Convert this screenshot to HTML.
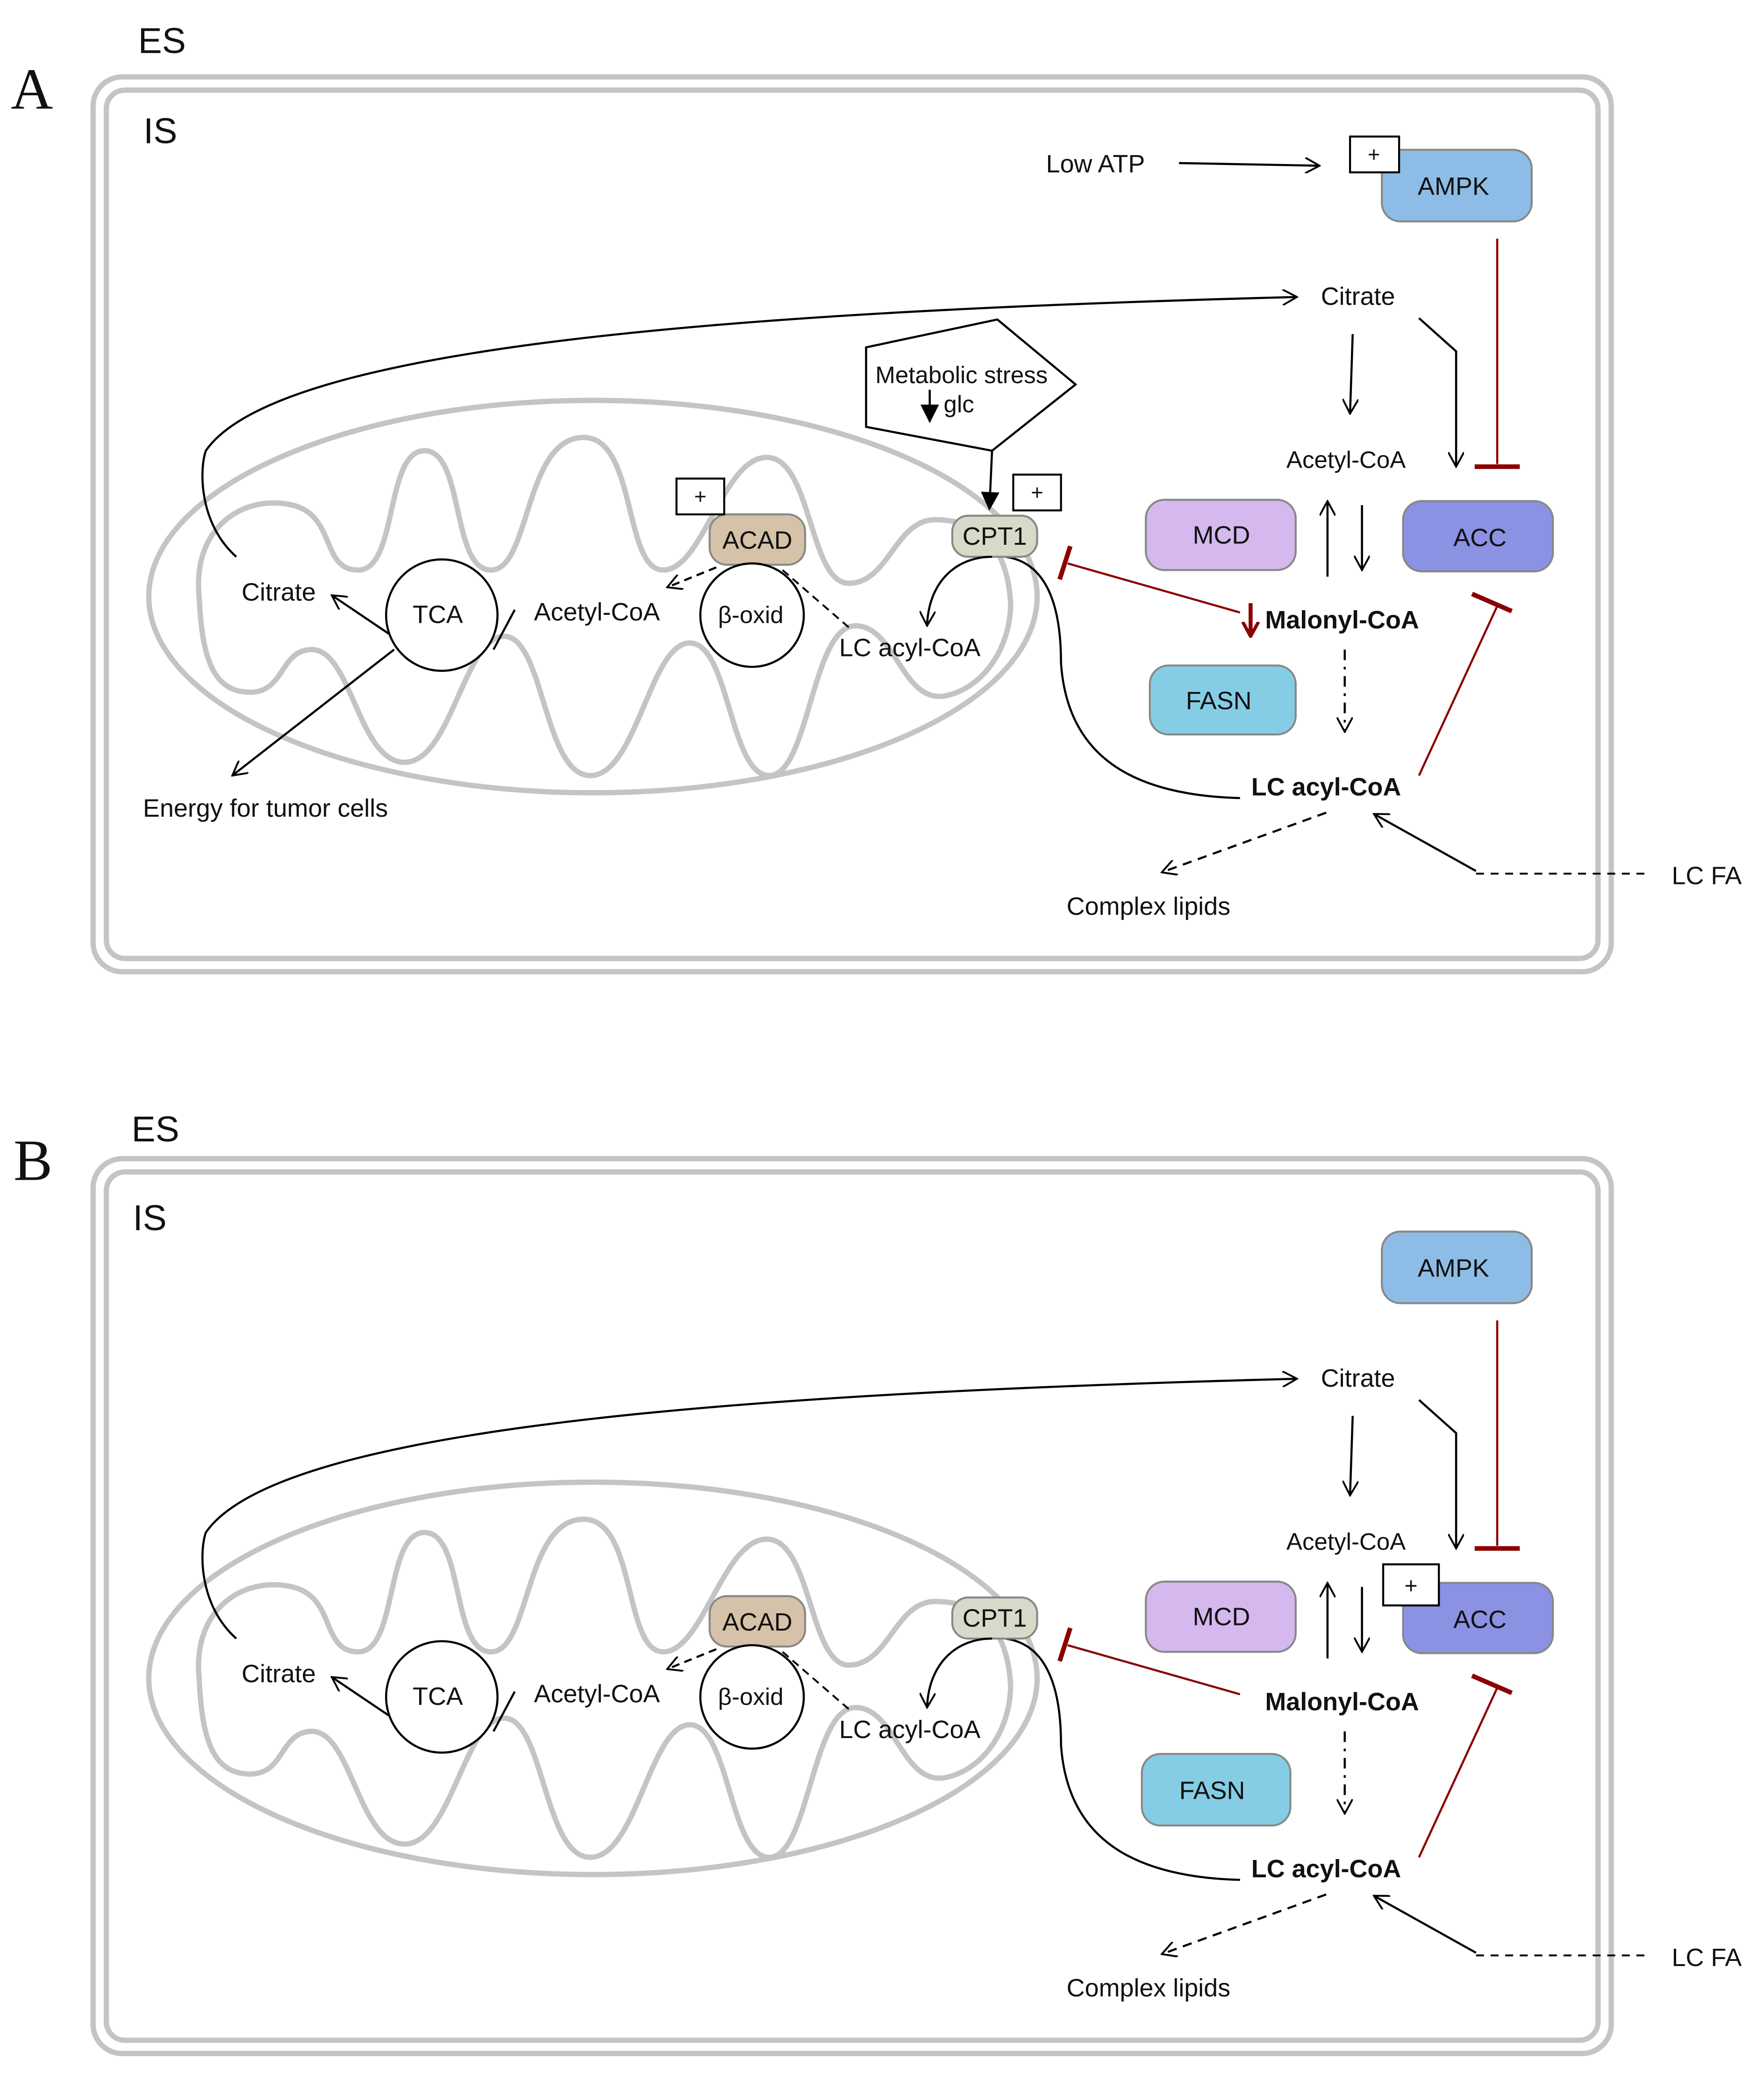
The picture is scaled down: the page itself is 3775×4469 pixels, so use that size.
<!DOCTYPE html>
<html><head><meta charset="utf-8"><style>
html,body{margin:0;padding:0;background:#fff;}
svg{display:block;}
text{font-family:"Liberation Sans",Arial,sans-serif;fill:#111;}
</style></head><body>
<svg width="3775" height="4469" viewBox="0 0 1330 1575" xmlns="http://www.w3.org/2000/svg">
<defs>
<marker id="ah" viewBox="0 0 12 12" refX="11" refY="6" markerWidth="12" markerHeight="12" markerUnits="userSpaceOnUse" orient="auto"><path d="M0,0 L11,6 L0,12" fill="none" stroke="#000" stroke-width="1.4"/></marker>
<marker id="af" viewBox="0 0 12 12" refX="11" refY="6" markerWidth="14" markerHeight="14" markerUnits="userSpaceOnUse" orient="auto"><path d="M0,0 L12,6 L0,12 z" fill="#000"/></marker>
<marker id="ar" viewBox="0 0 12 12" refX="11" refY="6" markerWidth="12" markerHeight="14" markerUnits="userSpaceOnUse" orient="auto"><path d="M0,0 L11,6 L0,12" fill="none" stroke="#8b0000" stroke-width="2.5"/></marker>
<g id="base">
 <rect x="70" y="58" width="1145" height="675" rx="22" fill="none" stroke="#c4c4c4" stroke-width="4"/>
 <rect x="80" y="68" width="1125" height="655" rx="14" fill="none" stroke="#c4c4c4" stroke-width="4"/>
 <ellipse cx="447" cy="450" rx="335" ry="148" fill="none" stroke="#c4c4c4" stroke-width="4"/>
 <path d="M150,450 C145,400 180,375 215,380 C255,385 240,430 270,430 C300,430 290,340 320,340 C350,340 340,430 370,430 C400,430 395,330 440,330 C480,330 470,430 500,430 C530,430 545,345 578,345 C612,345 610,440 640,440 C670,440 675,392 705,392 C745,392 760,420 762,455 C762,490 740,520 712,525 C680,530 675,472 645,472 C612,472 610,585 580,585 C550,585 550,485 520,485 C490,485 480,585 445,585 C410,585 410,480 380,480 C350,480 340,575 305,575 C270,575 265,490 235,490 C210,490 215,525 185,522 C160,520 152,495 150,450 Z" fill="none" stroke="#c4c4c4" stroke-width="4"/>
 <text x="1024" y="230" font-size="19" text-anchor="middle">Citrate</text>
 <path d="M178,420 C150,395 150,355 155,340 C210,260 560,235 978,224" fill="none" stroke="#000" stroke-width="1.6" marker-end="url(#ah)"/>
 <line x1="1020" y1="252" x2="1018" y2="312" stroke="#000" stroke-width="1.6" marker-end="url(#ah)"/>
 <polyline points="1070,240 1098,265 1098,352" fill="none" stroke="#000" stroke-width="1.6" marker-end="url(#ah)"/>
 <text x="1015" y="353" font-size="18" text-anchor="middle">Acetyl-CoA</text>
 <rect x="864" y="377" width="113" height="53" rx="14" fill="#d4b8ee" stroke="#888" stroke-width="1.5"/>
 <text x="921" y="410" font-size="19" text-anchor="middle">MCD</text>
 <rect x="1058" y="378" width="113" height="53" rx="14" fill="#8b91e3" stroke="#888" stroke-width="1.5"/>
 <text x="1116" y="412" font-size="19" text-anchor="middle">ACC</text>
 <line x1="1001" y1="435" x2="1001" y2="378" stroke="#000" stroke-width="1.6" marker-end="url(#ah)"/>
 <line x1="1027" y1="381" x2="1027" y2="430" stroke="#000" stroke-width="1.6" marker-end="url(#ah)"/>
 <text x="1012" y="474" font-size="19" font-weight="bold" text-anchor="middle">Malonyl-CoA</text>
 <line x1="935" y1="462" x2="805" y2="425" stroke="#8b0000" stroke-width="1.6"/>
 <line x1="799" y1="437" x2="807" y2="412" stroke="#8b0000" stroke-width="3.5"/>
 <line x1="1014" y1="490" x2="1014" y2="552" stroke="#000" stroke-width="1.6" stroke-dasharray="8,5,2,5" marker-end="url(#ah)"/>
 <text x="1000" y="600" font-size="19" font-weight="bold" text-anchor="middle">LC acyl-CoA</text>
 <line x1="1070" y1="585" x2="1130" y2="455" stroke="#8b0000" stroke-width="1.6"/>
 <line x1="1110" y1="448" x2="1140" y2="461" stroke="#8b0000" stroke-width="3.5"/>
 <line x1="1129" y1="180" x2="1129" y2="350" stroke="#8b0000" stroke-width="1.6"/>
 <line x1="1112" y1="352" x2="1146" y2="352" stroke="#8b0000" stroke-width="3.5"/>
 <path d="M758,420 C795,425 800,470 800,500 C805,575 860,600 935,602" fill="none" stroke="#000" stroke-width="1.6"/>
 <line x1="1000" y1="613" x2="876" y2="658" stroke="#000" stroke-width="1.6" stroke-dasharray="7,5" marker-end="url(#ah)"/>
 <text x="866" y="690" font-size="19" text-anchor="middle">Complex lipids</text>
 <line x1="1113" y1="657" x2="1036" y2="614" stroke="#000" stroke-width="1.6" marker-end="url(#ah)"/>
 <line x1="1113" y1="659" x2="1245" y2="659" stroke="#000" stroke-width="1.4" stroke-dasharray="6,5"/>
 <text x="1287" y="667" font-size="19" text-anchor="middle">LC FA</text>
 <rect x="718" y="389" width="64" height="31" rx="12" fill="#d7dac8" stroke="#888" stroke-width="1.5"/>
 <text x="750" y="411" font-size="19" text-anchor="middle">CPT1</text>
 <rect x="535" y="388" width="72" height="38" rx="13" fill="#d5c2a8" stroke="#888" stroke-width="1.5"/>
 <text x="571" y="414" font-size="19" text-anchor="middle">ACAD</text>
 <circle cx="567" cy="464" r="39" fill="#fff" stroke="#000" stroke-width="1.6"/>
 <text x="566" y="470" font-size="18" text-anchor="middle">β-oxid</text>
 <circle cx="333" cy="464" r="42" fill="#fff" stroke="#000" stroke-width="1.6"/>
 <text x="330" y="470" font-size="19" text-anchor="middle">TCA</text>
 <text x="210" y="453" font-size="19" text-anchor="middle">Citrate</text>
 <line x1="293" y1="478" x2="250" y2="449" stroke="#000" stroke-width="1.6" marker-end="url(#ah)"/>
 <line x1="372" y1="490" x2="388" y2="460" stroke="#000" stroke-width="1.6"/>
 <text x="450" y="468" font-size="19" text-anchor="middle">Acetyl-CoA</text>
 <line x1="540" y1="428" x2="503" y2="443" stroke="#000" stroke-width="1.6" stroke-dasharray="6,4" marker-end="url(#ah)"/>
 <line x1="590" y1="430" x2="642" y2="475" stroke="#000" stroke-width="1.4" stroke-dasharray="6,4"/>
 <text x="686" y="495" font-size="19" text-anchor="middle">LC acyl-CoA</text>
 <path d="M748,420 C720,420 700,440 699,472" fill="none" stroke="#000" stroke-width="1.6" marker-end="url(#ah)"/>
</g>
</defs>

<use href="#base"/>
<text x="8" y="82" font-size="44" style="font-family:'Liberation Serif',serif">A</text>
<text x="104" y="40" font-size="27">ES</text>
<text x="108" y="108" font-size="27">IS</text>
<text x="826" y="130" font-size="19" text-anchor="middle">Low ATP</text>
<line x1="889" y1="123" x2="995" y2="125" stroke="#000" stroke-width="1.6" marker-end="url(#ah)"/>
<rect x="1042" y="113" width="113" height="54" rx="14" fill="#8dbde6" stroke="#888" stroke-width="1.5"/>
<text x="1096" y="147" font-size="19" text-anchor="middle">AMPK</text>
<rect x="1018" y="103" width="37" height="27" fill="#fff" stroke="#000" stroke-width="1.5"/>
<text x="1036" y="122" font-size="16" text-anchor="middle">+</text>
<polygon points="653,262 752,241 811,290 748,340 653,322" fill="#fff" stroke="#000" stroke-width="1.6"/>
<text x="725" y="289" font-size="18" text-anchor="middle">Metabolic stress</text>
<text x="723" y="311" font-size="18" text-anchor="middle">glc</text>
<line x1="701" y1="294" x2="701" y2="318" stroke="#000" stroke-width="1.6" marker-end="url(#af)"/>
<line x1="748" y1="340" x2="746" y2="384" stroke="#000" stroke-width="1.6" marker-end="url(#af)"/>
<rect x="764" y="358" width="36" height="27" fill="#fff" stroke="#000" stroke-width="1.5"/>
<text x="782" y="377" font-size="16" text-anchor="middle">+</text>
<rect x="510" y="361" width="36" height="27" fill="#fff" stroke="#000" stroke-width="1.5"/>
<text x="528" y="380" font-size="16" text-anchor="middle">+</text>
<line x1="943" y1="455" x2="943" y2="480" stroke="#8b0000" stroke-width="3" marker-end="url(#ar)"/>
<rect x="867" y="502" width="110" height="52" rx="14" fill="#85cde5" stroke="#888" stroke-width="1.5"/>
<text x="919" y="535" font-size="19" text-anchor="middle">FASN</text>
<line x1="297" y1="490" x2="175" y2="585" stroke="#000" stroke-width="1.6" marker-end="url(#ah)"/>
<text x="200" y="616" font-size="19" text-anchor="middle">Energy for tumor cells</text>

<g transform="translate(0,816)">
<use href="#base"/>
<rect x="1042" y="113" width="113" height="54" rx="14" fill="#8dbde6" stroke="#888" stroke-width="1.5"/>
<text x="1096" y="147" font-size="19" text-anchor="middle">AMPK</text>
<rect x="1043" y="364" width="42" height="31" fill="#fff" stroke="#000" stroke-width="1.5"/>
<text x="1064" y="386" font-size="17" text-anchor="middle">+</text>
<rect x="861" y="507" width="112" height="54" rx="14" fill="#85cde5" stroke="#888" stroke-width="1.5"/>
<text x="914" y="541" font-size="19" text-anchor="middle">FASN</text>
</g>
<text x="10" y="890" font-size="44" style="font-family:'Liberation Serif',serif">B</text>
<text x="99" y="861" font-size="27">ES</text>
<text x="100" y="928" font-size="27">IS</text>
</svg>
</body></html>
